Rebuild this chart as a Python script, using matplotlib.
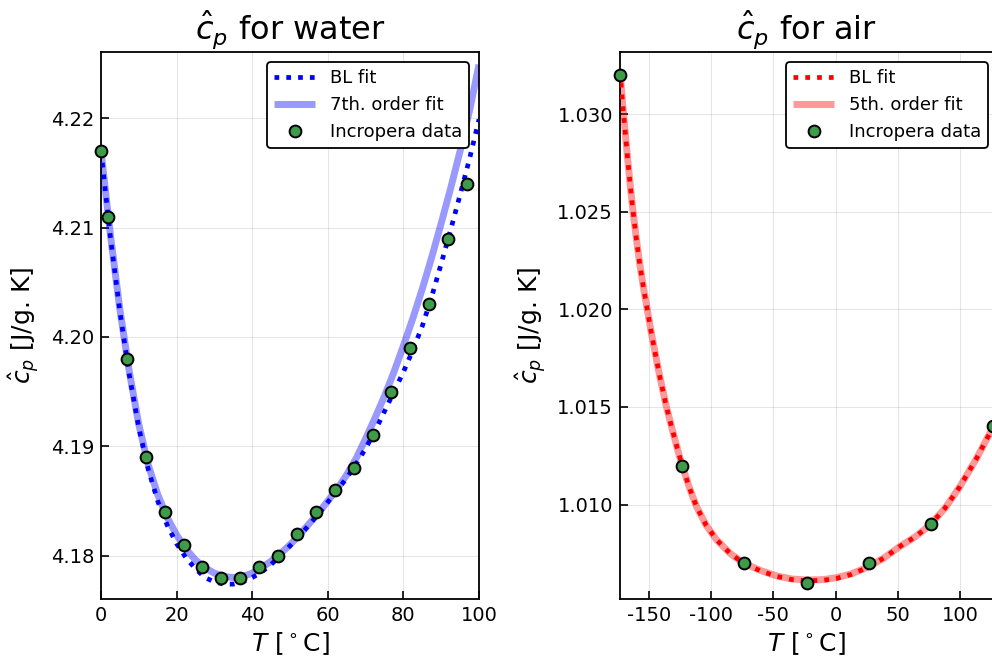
import numpy as np
import matplotlib
matplotlib.use("Agg")
import matplotlib.pyplot as plt

plt.rcParams['font.family'] = ['DejaVu Sans']
plt.rcParams['axes.unicode_minus'] = False
plt.rcParams['mathtext.fontset'] = 'dejavusans'

# ---------------- water data ----------------
water_T_data = [0.0, 1.85, 6.85, 11.85, 16.85, 21.85, 26.85, 31.85, 36.85, 41.85,
                46.85, 51.85, 56.85, 61.85, 66.85, 71.85, 76.85, 81.85, 86.85,
                91.85, 96.85]
water_cp_data = [4.217, 4.211, 4.198, 4.189, 4.184, 4.181, 4.179, 4.178, 4.178, 4.179,
                 4.180, 4.182, 4.184, 4.186, 4.188, 4.191, 4.195, 4.199, 4.203,
                 4.209, 4.214]

water_T_curve = [0, 2.5, 5, 7.5, 10, 12.5, 15, 17.5, 20, 22.5, 25, 27.5, 30, 32.5,
                 35, 37.5, 40, 42.5, 45, 47.5, 50, 52.5, 55, 57.5, 60, 62.5, 65,
                 67.5, 70, 72.5, 75, 77.5, 80, 82.5, 85, 87.5, 90, 92.5, 95, 97.5, 100]
water_bl_fit = [4.2170, 4.2091, 4.2023, 4.1965, 4.1917, 4.1879, 4.1850, 4.1828,
                4.1811, 4.1798, 4.1788, 4.1780, 4.1776, 4.1774, 4.1774, 4.1776,
                4.1780, 4.1785, 4.1792, 4.1800, 4.1809, 4.1818, 4.1828, 4.1838,
                4.1849, 4.1860, 4.1871, 4.1884, 4.1898, 4.1914, 4.1932, 4.1950,
                4.1968, 4.1988, 4.2010, 4.2037, 4.2067, 4.2098, 4.2130, 4.2163,
                4.2199]
water_poly_fit = [4.2170, 4.2093, 4.2025, 4.1968, 4.1920, 4.1883, 4.1856, 4.1835,
                  4.1819, 4.1806, 4.1796, 4.1789, 4.1784, 4.1781, 4.1780, 4.1781,
                  4.1784, 4.1789, 4.1795, 4.1802, 4.1810, 4.1819, 4.1829, 4.1839,
                  4.1850, 4.1861, 4.1874, 4.1889, 4.1907, 4.1926, 4.1946, 4.1968,
                  4.1992, 4.2017, 4.2044, 4.2073, 4.2104, 4.2136, 4.2170, 4.2207,
                  4.2249]

# ---------------- air data ----------------
air_T_data = [-173.15, -123.15, -73.15, -23.15, 26.85, 76.85, 126.85]
air_cp_data = [1.032, 1.012, 1.007, 1.006, 1.007, 1.009, 1.014]

air_T_curve = [-173.15, -171, -169, -167, -165, -163, -160, -157, -154, -151, -148,
               -145, -141, -136, -131.8, -127, -123, -117, -111.7, -104, -95.6,
               -85, -74.2, -60, -47.3, -35, -23.2, -10, 0.9, 13, 26.3, 39, 51.8,
               64, 75.9, 88, 100, 113, 126.85]
air_bl_fit = [1.0322, 1.0305, 1.0291, 1.0277, 1.0264, 1.0252, 1.0236, 1.0222,
              1.0210, 1.0199, 1.0188, 1.0178, 1.01650, 1.01505, 1.0140, 1.01285,
              1.01195, 1.01080, 1.00990, 1.00895, 1.00820, 1.00752, 1.00701,
              1.00660, 1.00632, 1.00616, 1.00610, 1.00612, 1.00622, 1.00643,
              1.00680, 1.00727, 1.00786, 1.00835, 1.00895, 1.00982, 1.01093,
              1.01233, 1.01400]
air_poly_fit = [1.0322, 1.0305, 1.0291, 1.0277, 1.0264, 1.0252, 1.0236, 1.0222,
                1.0210, 1.0199, 1.0188, 1.0178, 1.01650, 1.01505, 1.0140, 1.01285,
                1.01195, 1.01080, 1.00990, 1.00895, 1.00820, 1.00752, 1.00701,
                1.00662, 1.00635, 1.00619, 1.00614, 1.00616, 1.00626, 1.00646,
                1.00681, 1.00727, 1.00786, 1.00835, 1.00895, 1.00982, 1.01093,
                1.01233, 1.01400]

W, H = 992, 662
fig = plt.figure(figsize=(W / 100, H / 100), dpi=100)

def ax_at(x0, x1, y0, y1):
    return fig.add_axes([x0 / W, 1 - y1 / H, (x1 - x0) / W, (y1 - y0) / H])

ax1 = ax_at(101, 479, 52.3, 599)
ax2 = ax_at(620, 993.4, 52.3, 599)

green = '#3e9b49'
TICK_FS = 14
LAB_FS = 18
TITLE_FS = 23
LEG_FS = 13

def style(ax):
    ax.grid(True, color='black', alpha=0.1, linewidth=0.8)
    ax.set_axisbelow(True)
    for s in ax.spines.values():
        s.set_linewidth(1.3)
    ax.tick_params(direction='in', length=6, width=1.2, labelsize=TICK_FS,
                   top=False, right=False, pad=5)

def make_legend(ax, right_px, x0, w):
    h, l = ax.get_legend_handles_labels()
    order = [1, 0, 2]
    leg = ax.legend([h[i] for i in order], [l[i] for i in order], loc='upper right',
                    bbox_to_anchor=((right_px - x0) / w, (599 - 62) / 546.7),
                    borderaxespad=0, fontsize=LEG_FS, frameon=True,
                    edgecolor='black', framealpha=1, fancybox=True,
                    handlelength=2.3, handletextpad=0.8, labelspacing=0.5,
                    borderpad=0.38)
    leg.get_frame().set_linewidth(1.3)

# water
ax1.plot(water_T_curve, water_poly_fit, color='blue', alpha=0.4, lw=5,
         label='7th. order fit', zorder=2, solid_capstyle='butt')
ax1.plot(water_T_curve, water_bl_fit, color='blue', lw=3.4, ls=(0, (1, 1.5)),
         label='BL fit', zorder=3, dash_capstyle='butt')
ax1.plot(water_T_data, water_cp_data, 'o', color=green, mec='black', mew=1.4,
         ms=8.5, label='Incropera data', zorder=4, clip_on=False)
ax1.set_xlim(0, 100)
ax1.set_ylim(4.17604, 4.22603)
ax1.set_xticks([0, 20, 40, 60, 80, 100])
ax1.set_yticks([4.18, 4.19, 4.20, 4.21, 4.22])
ax1.set_yticklabels(['4.18', '4.19', '4.20', '4.21', '4.22'])
style(ax1)
ax1.set_title(r'$\hat{c}_p$ for water', fontsize=TITLE_FS, pad=9)
ax1.set_xlabel(r'$T$ [$^\circ$C]', fontsize=LAB_FS, labelpad=4)
ax1.set_ylabel(r'$\hat{c}_p$ [J/g. K]', fontsize=LAB_FS, labelpad=6)
make_legend(ax1, 469, 101, 378)

# air
ax2.plot(air_T_curve, air_poly_fit, color='red', alpha=0.4, lw=5,
         label='5th. order fit', zorder=2, solid_capstyle='butt')
ax2.plot(air_T_curve, air_bl_fit, color='red', lw=3.4, ls=(0, (1, 1.5)),
         label='BL fit', zorder=3, dash_capstyle='butt')
ax2.plot(air_T_data, air_cp_data, 'o', color=green, mec='black', mew=1.4,
         ms=8.5, label='Incropera data', zorder=4, clip_on=False)
ax2.set_xlim(-173.15, 126.85)
ax2.set_ylim(1.005166, 1.03316)
ax2.set_xticks([-150, -100, -50, 0, 50, 100])
ax2.set_yticks([1.010, 1.015, 1.020, 1.025, 1.030])
ax2.set_yticklabels(['1.010', '1.015', '1.020', '1.025', '1.030'])
style(ax2)
ax2.set_title(r'$\hat{c}_p$ for air', fontsize=TITLE_FS, pad=9)
ax2.set_xlabel(r'$T$ [$^\circ$C]', fontsize=LAB_FS, labelpad=4)
ax2.set_ylabel(r'$\hat{c}_p$ [J/g. K]', fontsize=LAB_FS, labelpad=6)
make_legend(ax2, 988, 620, 373.4)

fig.savefig('out.png', dpi=100)
